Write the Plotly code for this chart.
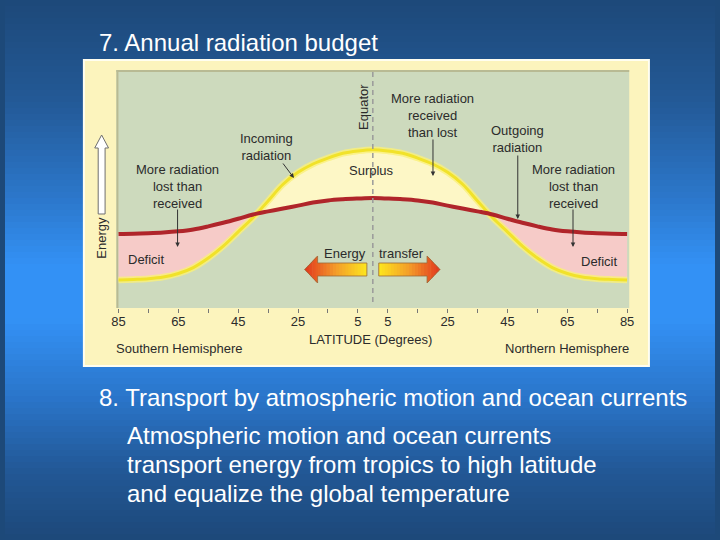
import plotly.graph_objects as go
import numpy as np

# ---------------- data ----------------
latitude = [-85, -80, -75, -70, -65, -60, -55, -50, -45, -40, -35, -30, -25, -20, -15, -10, -5,
            0, 5, 10, 15, 20, 25, 30, 35, 40, 45, 50, 55, 60, 65, 70, 75, 80, 85]
incoming = [11.8, 12.0, 12.3, 13.0, 14.5, 17.0, 21.0, 26.0, 32.0, 38.0, 45.0, 52.0, 57.0, 60.5, 63.0, 65.0, 66.0,
            66.5, 66.0, 65.0, 63.0, 60.5, 57.0, 52.0, 45.0, 38.0, 32.0, 26.0, 21.0, 17.0, 14.5, 13.0, 12.3, 12.0, 11.8]
outgoing = [31.1, 31.2, 31.4, 31.7, 32.2, 33.0, 34.3, 35.8, 37.5, 39.3, 40.6, 41.8, 43.0, 44.3, 45.2, 45.7, 46.0,
            46.2, 46.0, 45.7, 45.2, 44.3, 43.0, 41.8, 40.6, 39.3, 37.5, 35.8, 34.3, 33.0, 32.2, 31.7, 31.4, 31.2, 31.1]
tick_vals = [-85, -75, -65, -55, -45, -35, -25, -15, -5, 5, 15, 25, 35, 45, 55, 65, 75, 85]
tick_text = ["85", "", "65", "", "45", "", "25", "", "5", "5", "", "25", "", "45", "", "65", "", "85"]

W, H = 720, 540
FONT = "Liberation Sans, Arial, sans-serif"
TXT = "#2b2b2b"


def px(x):
    return x / W


def py(y):
    return 1 - y / H


def hex2rgb(c):
    c = c.lstrip("#")
    return [int(c[i:i + 2], 16) for i in (0, 2, 4)]


def interp_color(stops, t):
    for (t0, c0), (t1, c1) in zip(stops[:-1], stops[1:]):
        if t0 <= t <= t1:
            f = 0 if t1 == t0 else (t - t0) / (t1 - t0)
            a, b = hex2rgb(c0), hex2rgb(c1)
            r = [round(a[k] + f * (b[k] - a[k])) for k in range(3)]
            return "rgb(%d,%d,%d)" % tuple(r)
    return stops[-1][1]


shapes = []

# ---- slide background gradient ----
bg_stops = [(0, "#1d4979"), (100, "#235996"), (200, "#2c78cc"), (265, "#3391f5"),
            (320, "#3391f5"), (400, "#2a74c8"), (470, "#225896"), (540, "#1d4879")]
step = 6
for y0 in range(0, H, step):
    col = interp_color(bg_stops, y0 + step / 2)
    shapes.append(dict(type="rect", xref="paper", yref="paper", layer="below",
                       x0=0, x1=1, y0=py(y0 + step + 0.5), y1=py(y0),
                       fillcolor=col, line=dict(width=0)))

# ---- picture frame and plot panel ----
shapes.append(dict(type="rect", xref="paper", yref="paper", layer="below",
                   x0=px(80), x1=px(653), y0=py(366), y1=py(60),
                   fillcolor="#fcf4bd", line=dict(color="#fffef0", width=2)))
shapes.append(dict(type="rect", xref="paper", yref="paper", layer="below",
                   x0=px(113), x1=px(633), y0=py(308), y1=py(70),
                   fillcolor="#cddabd", line=dict(width=0)))
shapes.append(dict(type="line", xref="paper", yref="paper", layer="below",
                   x0=px(113), x1=px(633), y0=py(71), y1=py(71),
                   line=dict(color="#b8ba93", width=2)))
shapes.append(dict(type="line", xref="paper", yref="paper", layer="below",
                   x0=px(114), x1=px(114), y0=py(308), y1=py(70),
                   line=dict(color="#b8ba93", width=2)))

# ---- equator dashed line ----
shapes.append(dict(type="line", xref="x", yref="paper", layer="above",
                   x0=0, x1=0, y0=py(302), y1=py(70),
                   line=dict(color="#9a9a9a", width=1.5, dash="5px,4px")))

# ---- energy transfer arrows (gradient) ----
arrow_stops = [(0, "#fde71c"), (0.5, "#f49d2a"), (1, "#e2361c")]


def gradient_arrow(x_tail, x_base, x_tip, yc=269.5, body_h=6.5, head_h=13.5):
    sgn = 1 if x_tip > x_tail else -1
    total = abs(x_tip - x_tail)
    n_body = 16
    for i in range(n_body):
        a = x_tail + (x_base - x_tail) * i / n_body
        b = x_tail + (x_base - x_tail) * (i + 1) / n_body + sgn * 0.6
        t = abs((a + b) / 2 - x_tail) / total
        shapes.append(dict(type="rect", xref="paper", yref="paper", layer="above",
                           x0=px(min(a, b)), x1=px(max(a, b)),
                           y0=py(yc + body_h), y1=py(yc - body_h),
                           fillcolor=interp_color(arrow_stops, t), line=dict(width=0)))
    n_head = 8
    hl = x_tip - x_base
    for i in range(n_head):
        a = x_base + hl * i / n_head
        b = x_base + hl * (i + 1) / n_head
        ha = head_h * (1 - i / n_head)
        hb = head_h * (1 - (i + 1) / n_head)
        bb = b + sgn * 0.5
        t = abs((a + b) / 2 - x_tail) / total
        path = "M %f %f L %f %f L %f %f L %f %f Z" % (
            px(a), py(yc - ha), px(bb), py(yc - hb), px(bb), py(yc + hb), px(a), py(yc + ha))
        shapes.append(dict(type="path", xref="paper", yref="paper", layer="above", path=path,
                           fillcolor=interp_color(arrow_stops, t), line=dict(width=0)))
    pts = [(x_tail, yc - body_h), (x_base, yc - body_h), (x_base, yc - head_h), (x_tip, yc),
           (x_base, yc + head_h), (x_base, yc + body_h), (x_tail, yc + body_h)]
    path = "M " + " L ".join("%f %f" % (px(x), py(y)) for x, y in pts) + " Z"
    shapes.append(dict(type="path", xref="paper", yref="paper", layer="above", path=path,
                       fillcolor="rgba(0,0,0,0)", line=dict(color="#9a6a3a", width=0.8)))


gradient_arrow(367, 317, 304)
gradient_arrow(379, 428, 441)

# ---- hollow energy arrow on the left ----
pts = [(94.5, 214), (94.5, 148), (91, 148), (98, 135), (105, 148), (101.5, 148), (101.5, 214)]
path = "M " + " L ".join("%f %f" % (px(x), py(y)) for x, y in pts) + " Z"
shapes.append(dict(type="path", xref="paper", yref="paper", layer="above", path=path,
                   fillcolor="#ffffff", line=dict(color="#6f6f6f", width=1)))

# ---------------- traces ----------------
lat = np.array(latitude, float)
yin = np.array(incoming, float)
yout = np.array(outgoing, float)
xa, a_in, a_out = [lat[0]], [yin[0]], [yout[0]]
for i in range(1, len(lat)):
    d0 = yin[i - 1] - yout[i - 1]
    d1 = yin[i] - yout[i]
    if d0 * d1 < 0:
        t = d0 / (d0 - d1)
        xc = lat[i - 1] + t * (lat[i] - lat[i - 1])
        yc = yout[i - 1] + t * (yout[i] - yout[i - 1])
        xa.append(xc); a_in.append(yc); a_out.append(yc)
    xa.append(lat[i]); a_in.append(yin[i]); a_out.append(yout[i])
a_in = np.array(a_in); a_out = np.array(a_out)
upper = np.maximum(a_in, a_out)
lower = np.minimum(a_in, a_out)

fig = go.Figure()
common = dict(mode="lines", hoverinfo="skip", showlegend=False)
fig.add_trace(go.Scatter(x=xa, y=a_out, line=dict(width=0, shape="spline"), **common))
fig.add_trace(go.Scatter(x=xa, y=upper, line=dict(width=0, shape="spline"),
                         fill="tonexty", fillcolor="#fdf7c6", **common))
fig.add_trace(go.Scatter(x=xa, y=a_out, line=dict(width=0, shape="spline"), **common))
fig.add_trace(go.Scatter(x=xa, y=lower, line=dict(width=0, shape="spline"),
                         fill="tonexty", fillcolor="#f6cbc8", **common))
# incoming radiation (yellow, glowing)
fig.add_trace(go.Scatter(x=latitude, y=incoming, line=dict(color="rgba(250,240,120,0.8)", width=6.5, shape="spline"), **common))
fig.add_trace(go.Scatter(x=latitude, y=incoming, line=dict(color="#f1e22a", width=3, shape="spline"), **common))
# outgoing radiation (dark red)
fig.add_trace(go.Scatter(x=latitude, y=outgoing, line=dict(color="#b0252a", width=4, shape="spline"), **common))

# ---------------- annotations ----------------
ann = []


def text(t, x, y, size=13, color=TXT, xanchor="center", angle=0):
    ann.append(dict(text=t, x=px(x), y=py(y), xref="paper", yref="paper", showarrow=False,
                    xanchor=xanchor, yanchor="middle", textangle=angle,
                    font=dict(family=FONT, size=size, color=color)))


def arrow(x_tail, y_tail, x_head, y_head):
    ann.append(dict(text="", x=px(x_head), y=py(y_head), xref="paper", yref="paper",
                    ax=x_tail - x_head, ay=y_tail - y_head, showarrow=True,
                    arrowhead=2, arrowsize=0.9, arrowwidth=1, arrowcolor="#333333", standoff=0))


# slide text
text("7. Annual radiation budget", 93, 43, size=24, color="white", xanchor="left")
text("8. Transport by atmospheric motion and ocean currents", 93, 397, size=24, color="white", xanchor="left")
text("Atmospheric motion and ocean currents", 122, 435, size=24, color="white", xanchor="left")
text("transport energy from tropics to high latitude", 122, 464, size=24, color="white", xanchor="left")
text("and equalize the global temperature", 122, 493, size=24, color="white", xanchor="left")

# diagram text
text("Equator", 363, 107, angle=-90)
text("Energy", 97, 238, angle=-90)
text("Incoming<br>radiation", 265, 147, size=13)
arrow(281, 162, 293, 178)
for x in (175, 576):
    text("More radiation<br>lost than<br>received", x, 186, size=13)
    arrow(x, 208, x, 247)
text("More radiation<br>received<br>than lost", 434, 116, size=13)
arrow(434, 138, 434, 176)
text("Outgoing<br>radiation", 520, 139, size=13)
arrow(520, 154, 520, 219)
text("Surplus", 372, 170)
text("Deficit", 143, 259)
text("Deficit", 603, 261)
text("Energy", 368, 253, xanchor="right")
text("transfer", 377, 253, xanchor="left")
text("LATITUDE (Degrees)", 371, 339)
text("Southern Hemisphere", 176, 348)
text("Northern Hemisphere", 570, 348)

fig.update_layout(
    width=W, height=H, margin=dict(l=0, r=0, t=0, b=0),
    paper_bgcolor="#1d4979", plot_bgcolor="rgba(0,0,0,0)",
    shapes=shapes, annotations=ann, showlegend=False,
    xaxis=dict(domain=[px(113), px(633)], range=[-85.7, 85.7], tickvals=tick_vals, ticktext=tick_text,
               ticks="outside", ticklen=4, tickcolor="#777777", tickwidth=1, ticklabelstandoff=-3,
               showgrid=False, zeroline=False, showline=False,
               tickfont=dict(family=FONT, size=13, color=TXT), fixedrange=True),
    yaxis=dict(domain=[py(308), py(70)], range=[0, 100], visible=False, fixedrange=True),
)

fig.write_html("out.html", config={"displayModeBar": False},
               post_script="document.body.style.margin='0px';document.body.style.overflow='hidden';")
